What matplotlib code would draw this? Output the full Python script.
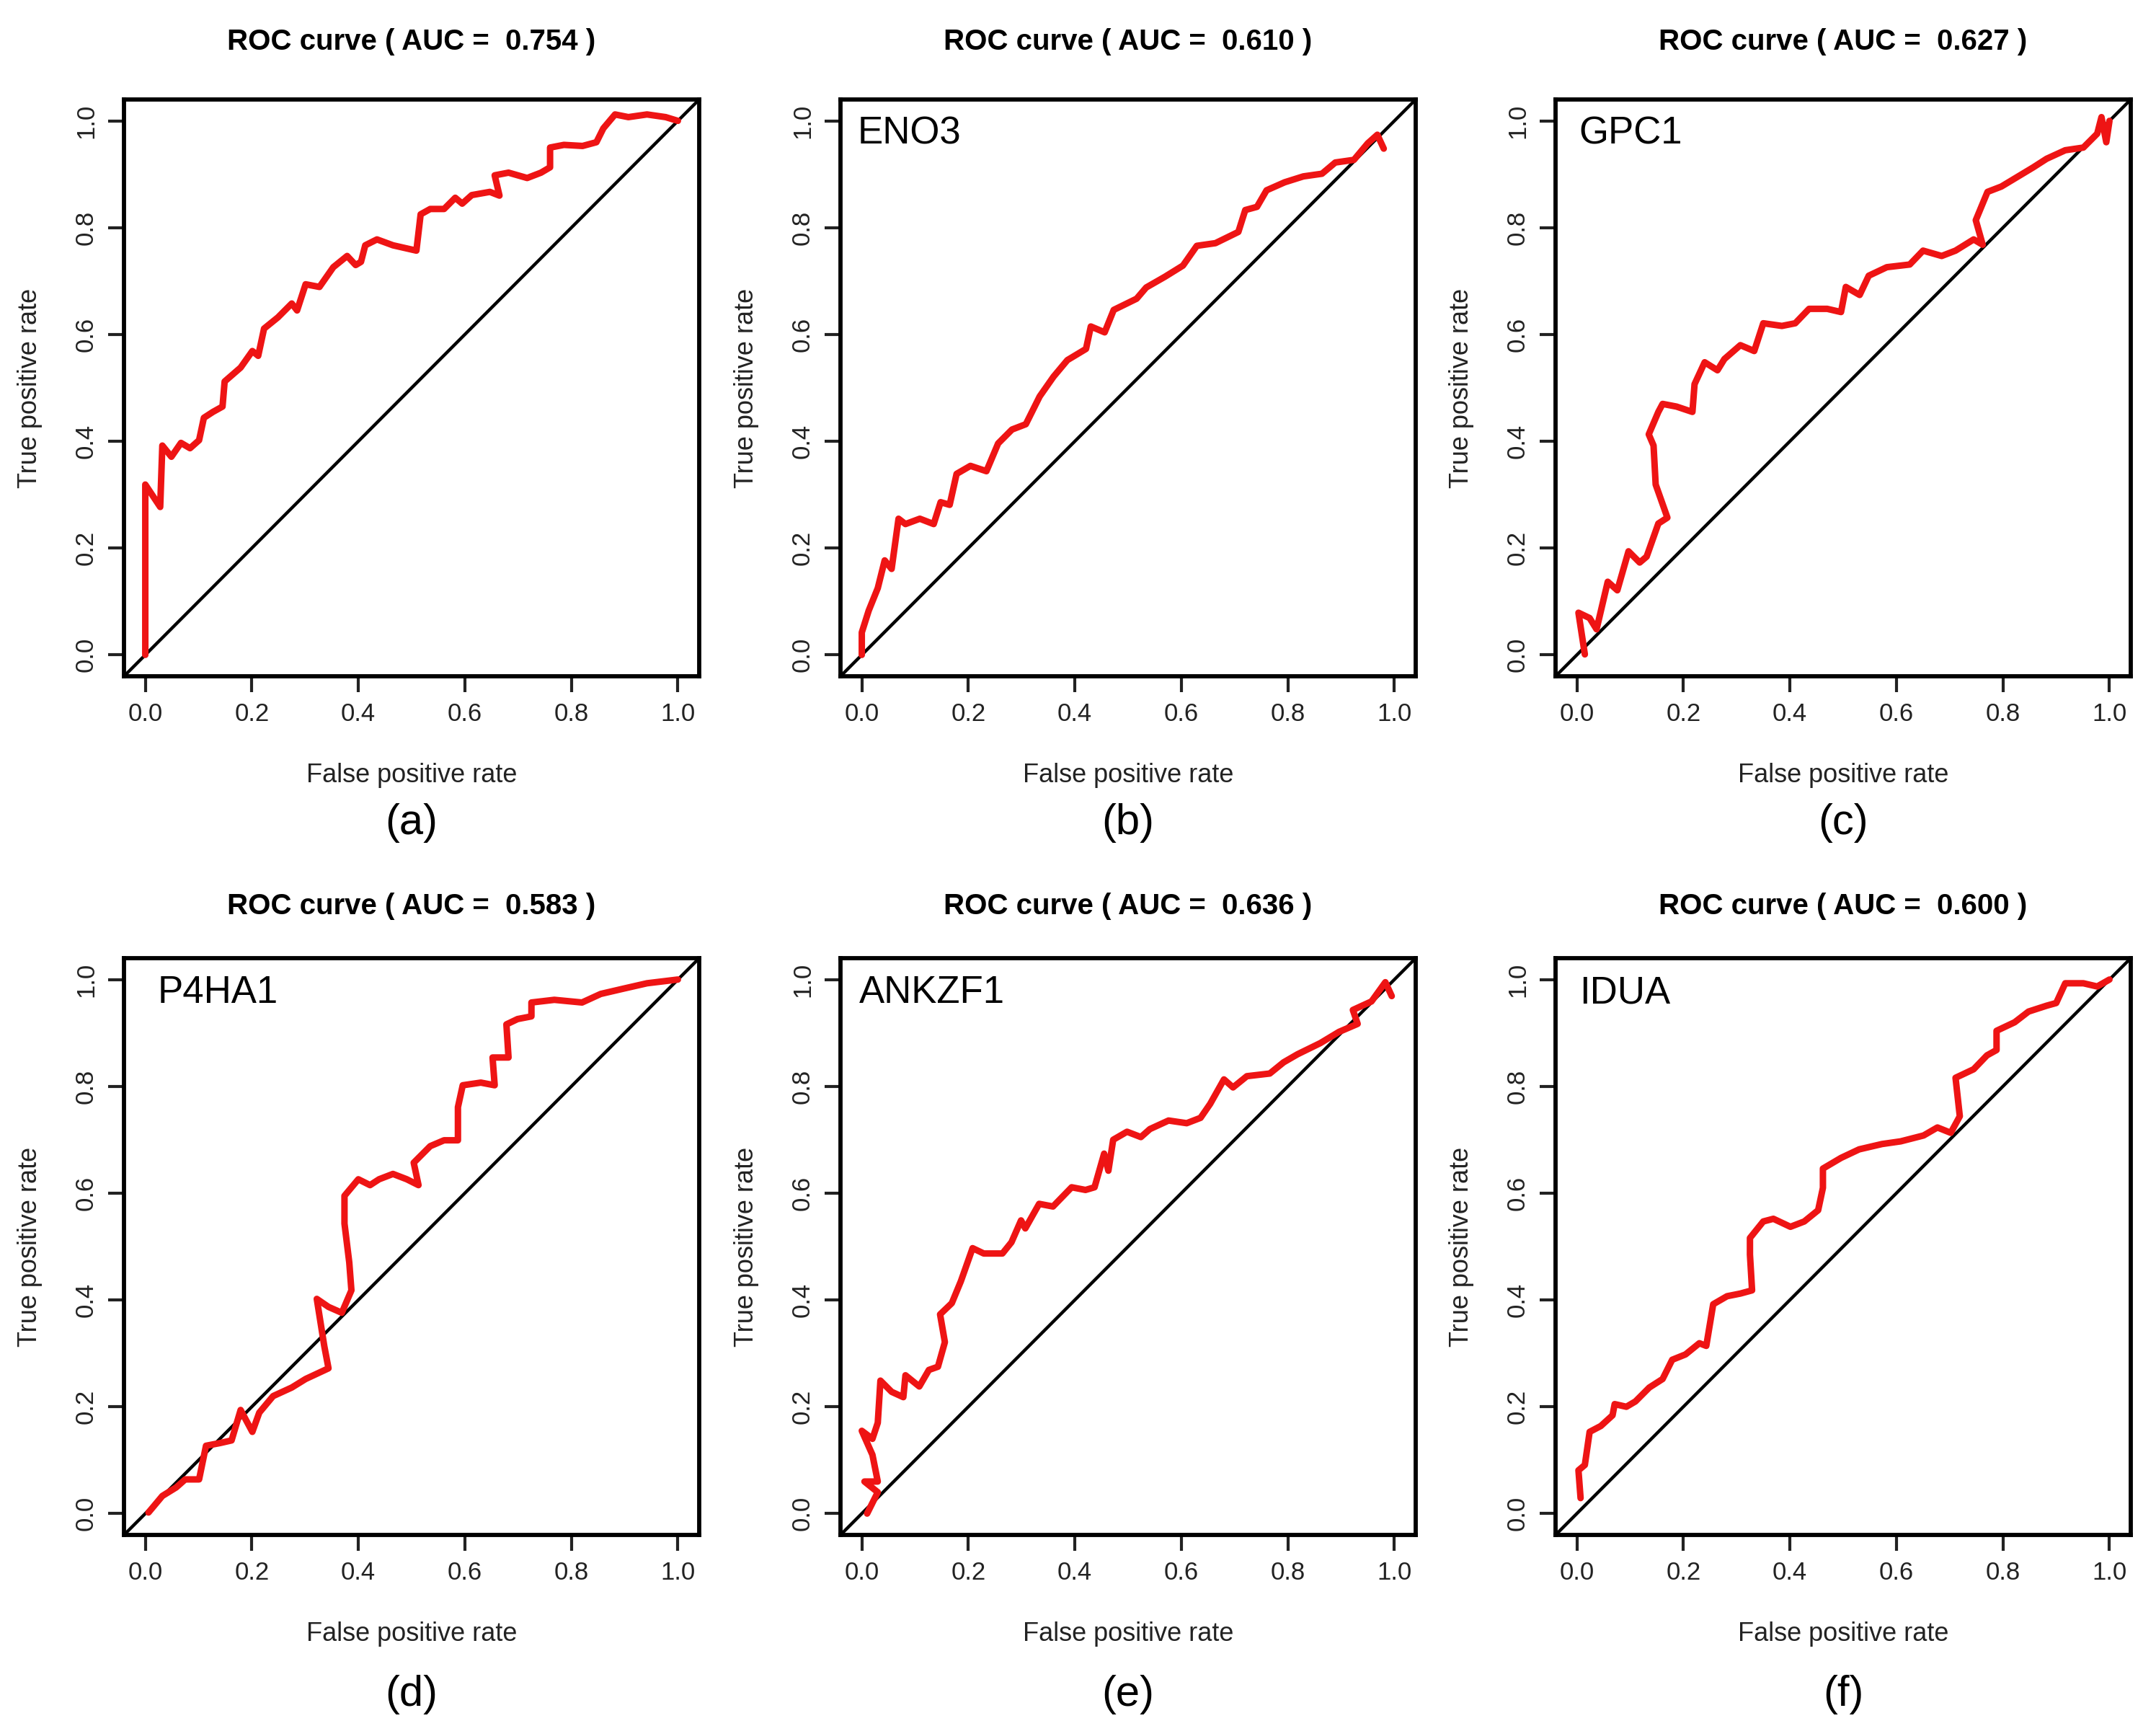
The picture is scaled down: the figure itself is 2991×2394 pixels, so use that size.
import matplotlib
matplotlib.use('Agg')
import matplotlib.pyplot as plt

plt.rcParams['font.family'] = ['Liberation Sans', 'DejaVu Sans']

# =========================
# DATA
# =========================
tags = ['(a)', '(b)', '(c)', '(d)', '(e)', '(f)']
genes = ['', 'ENO3', 'GPC1', 'P4HA1', 'ANKZF1', 'IDUA']
auc = ['0.754', '0.610', '0.627', '0.583', '0.636', '0.600']

fpr_a = [0.0, 0.0, 0.028, 0.032, 0.049, 0.067, 0.084, 0.101, 0.110, 0.127,
         0.145, 0.149, 0.179, 0.201, 0.212, 0.223, 0.249, 0.275, 0.285, 0.301,
         0.327, 0.353, 0.379, 0.395, 0.405, 0.413, 0.435, 0.465, 0.509, 0.517,
         0.535, 0.561, 0.582, 0.595, 0.613, 0.647, 0.665, 0.656, 0.682, 0.717,
         0.743, 0.760, 0.760, 0.786, 0.821, 0.847, 0.860, 0.882, 0.907, 0.942,
         0.977, 1.000]
tpr_a = [0.0, 0.319, 0.277, 0.392, 0.371, 0.397, 0.387, 0.402, 0.444, 0.455,
         0.465, 0.512, 0.538, 0.569, 0.560, 0.611, 0.632, 0.658, 0.645, 0.694,
         0.689, 0.726, 0.747, 0.730, 0.736, 0.767, 0.778, 0.767, 0.757, 0.825,
         0.835, 0.835, 0.856, 0.845, 0.861, 0.867, 0.860, 0.898, 0.903, 0.893,
         0.903, 0.913, 0.950, 0.955, 0.953, 0.960, 0.986, 1.012, 1.007, 1.012,
         1.007, 1.000]

fpr_b = [0.0, 0.0, 0.013, 0.030, 0.043, 0.056, 0.069, 0.082, 0.109, 0.135,
         0.148, 0.165, 0.178, 0.204, 0.234, 0.256, 0.282, 0.308, 0.334, 0.360,
         0.386, 0.421, 0.430, 0.456, 0.473, 0.516, 0.534, 0.569, 0.603, 0.629,
         0.664, 0.707, 0.720, 0.742, 0.760, 0.794, 0.829, 0.864, 0.889, 0.924,
         0.950, 0.968, 0.980]
tpr_b = [0.0, 0.042, 0.083, 0.125, 0.177, 0.161, 0.255, 0.245, 0.255, 0.245,
         0.286, 0.281, 0.339, 0.354, 0.344, 0.396, 0.422, 0.432, 0.484, 0.521,
         0.552, 0.573, 0.615, 0.604, 0.646, 0.667, 0.688, 0.708, 0.729, 0.766,
         0.771, 0.792, 0.833, 0.839, 0.870, 0.885, 0.896, 0.901, 0.922, 0.927,
         0.958, 0.974, 0.948]

fpr_c = [0.015, 0.003, 0.024, 0.037, 0.058, 0.076, 0.097, 0.118, 0.131, 0.153,
         0.170, 0.148, 0.144, 0.135, 0.153, 0.161, 0.187, 0.217, 0.221, 0.240,
         0.264, 0.277, 0.307, 0.333, 0.350, 0.385, 0.410, 0.436, 0.470, 0.496,
         0.505, 0.531, 0.548, 0.582, 0.625, 0.650, 0.685, 0.711, 0.745, 0.762,
         0.749, 0.771, 0.797, 0.822, 0.857, 0.882, 0.917, 0.951, 0.977, 0.985,
         0.994, 1.000]
tpr_c = [0.001, 0.079, 0.069, 0.048, 0.137, 0.121, 0.194, 0.173, 0.184, 0.246,
         0.257, 0.319, 0.392, 0.413, 0.455, 0.470, 0.465, 0.455, 0.507, 0.548,
         0.533, 0.554, 0.580, 0.569, 0.621, 0.616, 0.621, 0.648, 0.648, 0.642,
         0.689, 0.674, 0.710, 0.726, 0.731, 0.757, 0.747, 0.757, 0.778, 0.768,
         0.814, 0.867, 0.877, 0.892, 0.913, 0.929, 0.945, 0.950, 0.976, 1.007,
         0.960, 1.000]

fpr_d = [0.006, 0.032, 0.058, 0.075, 0.101, 0.114, 0.140, 0.162, 0.179, 0.201,
         0.214, 0.240, 0.275, 0.301, 0.344, 0.336, 0.322, 0.344, 0.369, 0.387,
         0.383, 0.374, 0.374, 0.400, 0.422, 0.439, 0.465, 0.491, 0.513, 0.504,
         0.535, 0.561, 0.587, 0.587, 0.596, 0.630, 0.656, 0.652, 0.682, 0.678,
         0.699, 0.725, 0.725, 0.768, 0.820, 0.855, 0.898, 0.942, 1.000]
tpr_d = [0.002, 0.033, 0.049, 0.064, 0.064, 0.127, 0.132, 0.137, 0.194, 0.153,
         0.189, 0.220, 0.236, 0.252, 0.272, 0.314, 0.402, 0.387, 0.376, 0.418,
         0.470, 0.543, 0.595, 0.626, 0.615, 0.626, 0.636, 0.626, 0.615, 0.657,
         0.688, 0.699, 0.699, 0.761, 0.802, 0.807, 0.802, 0.854, 0.854, 0.916,
         0.926, 0.931, 0.957, 0.962, 0.957, 0.973, 0.983, 0.993, 1.000]

fpr_e = [0.010, 0.030, 0.005, 0.030, 0.020, 0.000, 0.020, 0.030, 0.035, 0.056,
         0.078, 0.082, 0.108, 0.126, 0.143, 0.156, 0.147, 0.169, 0.186, 0.208,
         0.229, 0.264, 0.281, 0.299, 0.307, 0.333, 0.359, 0.394, 0.420, 0.437,
         0.455, 0.463, 0.472, 0.498, 0.524, 0.541, 0.576, 0.610, 0.636, 0.654,
         0.680, 0.697, 0.723, 0.766, 0.792, 0.818, 0.861, 0.896, 0.931, 0.922,
         0.957, 0.983, 0.995]
tpr_e = [0.000, 0.040, 0.060, 0.060, 0.110, 0.155, 0.140, 0.170, 0.249, 0.228,
         0.218, 0.259, 0.238, 0.269, 0.275, 0.321, 0.373, 0.394, 0.435, 0.497,
         0.487, 0.487, 0.508, 0.549, 0.534, 0.580, 0.575, 0.611, 0.606, 0.611,
         0.674, 0.642, 0.700, 0.715, 0.705, 0.720, 0.736, 0.731, 0.741, 0.767,
         0.813, 0.798, 0.819, 0.824, 0.845, 0.860, 0.881, 0.902, 0.917, 0.943,
         0.959, 0.995, 0.969]

fpr_f = [0.007, 0.003, 0.015, 0.024, 0.045, 0.067, 0.071, 0.093, 0.110, 0.136,
         0.161, 0.179, 0.204, 0.230, 0.243, 0.256, 0.282, 0.307, 0.329, 0.325,
         0.325, 0.350, 0.369, 0.401, 0.427, 0.453, 0.462, 0.462, 0.496, 0.530,
         0.573, 0.608, 0.651, 0.677, 0.702, 0.719, 0.711, 0.745, 0.770, 0.788,
         0.788, 0.822, 0.848, 0.882, 0.900, 0.917, 0.951, 0.977, 1.000]
tpr_f = [0.029, 0.081, 0.091, 0.153, 0.164, 0.184, 0.205, 0.200, 0.210, 0.236,
         0.252, 0.288, 0.298, 0.319, 0.314, 0.392, 0.407, 0.412, 0.418, 0.485,
         0.516, 0.547, 0.552, 0.537, 0.547, 0.568, 0.610, 0.646, 0.666, 0.682,
         0.692, 0.697, 0.708, 0.723, 0.713, 0.744, 0.816, 0.832, 0.858, 0.868,
         0.904, 0.920, 0.940, 0.951, 0.956, 0.993, 0.993, 0.987, 1.000]

curves = [(fpr_a, tpr_a), (fpr_b, tpr_b), (fpr_c, tpr_c),
          (fpr_d, tpr_d), (fpr_e, tpr_e), (fpr_f, tpr_f)]
for fx, ty in curves:
    assert len(fx) == len(ty)

ticks = [0.0, 0.2, 0.4, 0.6, 0.8, 1.0]
tick_labels = ['0.0', '0.2', '0.4', '0.6', '0.8', '1.0']

# =========================
# LAYOUT (pixels of a 2991x2394 canvas)
# =========================
W, H = 2991, 2394
lefts = [172, 1166, 2158]
row_tops = [138, 1329]
box_w, box_h = 798, 800
tag_y = [1142, 2350]
gene_x = [0.03, 0.03, 0.04, 0.058, 0.033, 0.042]

fig = plt.figure(figsize=(W / 100, H / 100), dpi=100)

for i in range(6):
    r, c = divmod(i, 3)
    l, t = lefts[c], row_tops[r]
    ax = fig.add_axes([l / W, 1 - (t + box_h) / H, box_w / W, box_h / H])
    fx, ty = curves[i]

    ax.axline((0, 0), slope=1, color='black', lw=3.2, zorder=2)
    ax.plot(fx, ty, color='#ee1414', lw=6.5, solid_joinstyle='round',
            solid_capstyle='round', zorder=3)

    ax.set_xlim(-0.04, 1.04)
    ax.set_ylim(-0.04, 1.04)
    ax.set_xticks(ticks)
    ax.set_xticklabels(tick_labels)
    ax.set_yticks(ticks)
    ax.set_yticklabels(tick_labels, rotation=90, va='center')
    ax.tick_params(direction='out', length=16, width=3.0, labelsize=25,
                   colors='#222222', pad=10)
    for s in ax.spines.values():
        s.set_linewidth(4.2)

    ax.set_xlabel('False positive rate', fontsize=26, color='#222222', va='center')
    ax.xaxis.set_label_coords(0.5, -0.172)
    ax.set_ylabel('True positive rate', fontsize=26, color='#222222', va='center')
    ax.yaxis.set_label_coords(-0.163, 0.5)

    ax.text(0.5, 1.1 if r == 0 else 1.09, 'ROC curve ( AUC =  ' + auc[i] + ' )',
            transform=ax.transAxes, ha='center', va='center',
            fontsize=29, fontweight='bold')

    if genes[i]:
        ax.text(gene_x[i], 0.94, genes[i], transform=ax.transAxes,
                ha='left', va='center', fontsize=38)

    fig.text((l + box_w / 2) / W, 1 - tag_y[r] / H, tags[i],
             ha='center', va='center', fontsize=43)

fig.savefig('out.png', dpi=100, facecolor='white')
